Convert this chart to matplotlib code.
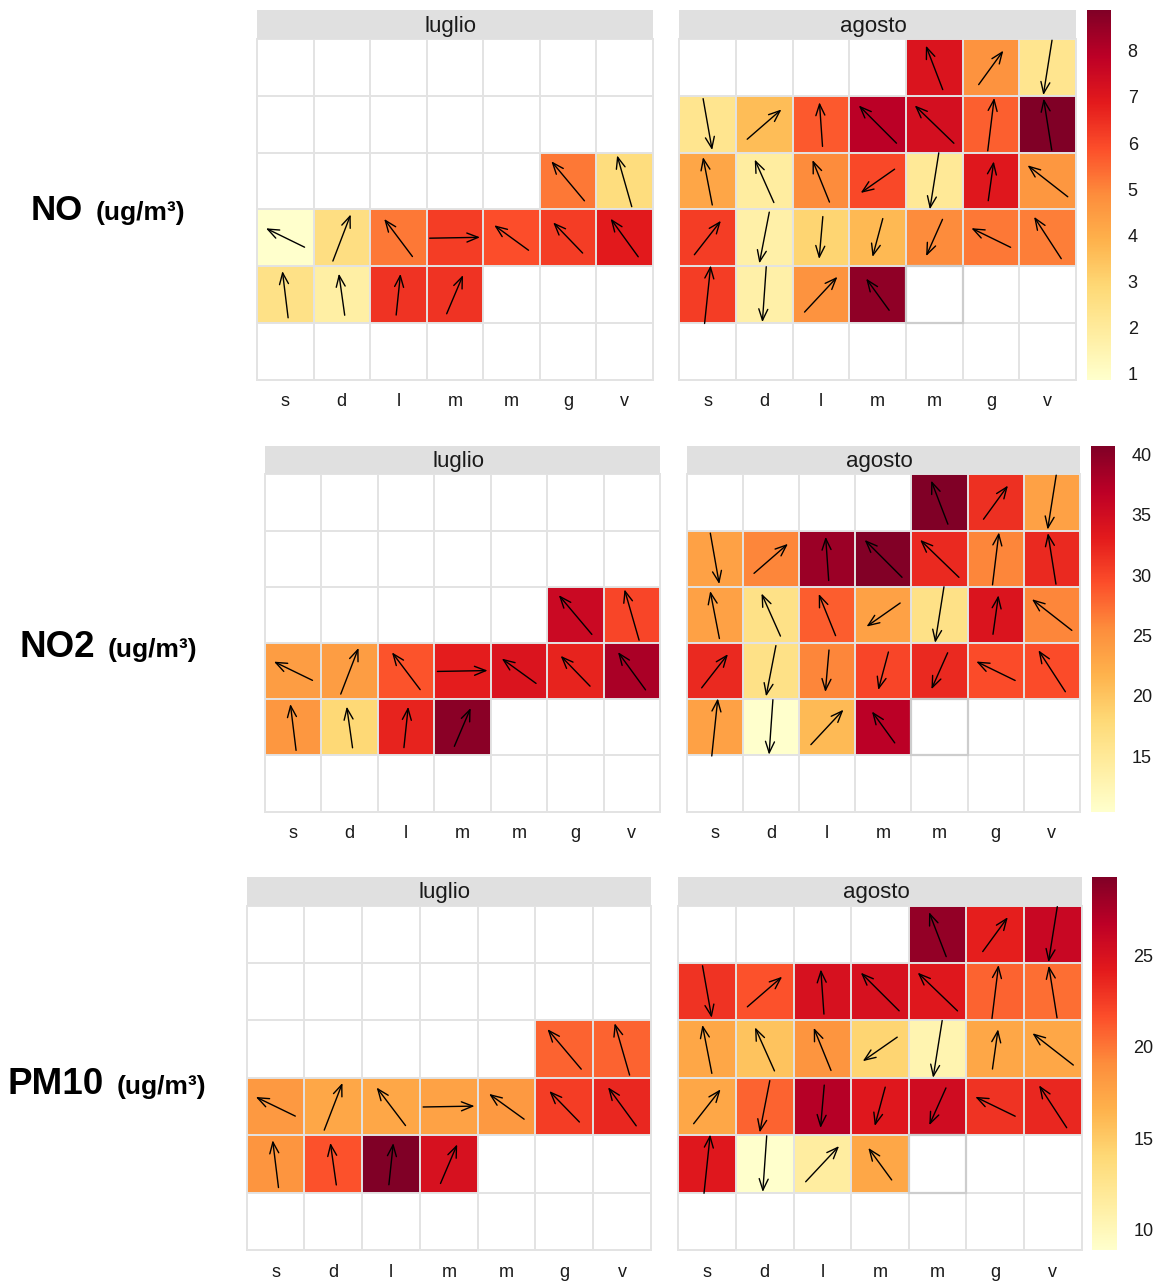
import datetime as dt
import numpy as np
import matplotlib
matplotlib.use("Agg")
import matplotlib.pyplot as plt
from matplotlib.patches import Rectangle, FancyArrowPatch
from matplotlib import cm, colors

plt.rcParams['font.family'] = ['Liberation Sans', 'DejaVu Sans']

W, H = 1159, 1282

# ---- data -------------------------------------------------------------
year = 2018
jul_days = list(range(19, 32))
aug_days = list(range(1, 29))
aug_missing = [29]

week_labels = ['s', 'd', 'l', 'm', 'm', 'g', 'v']
month_names = ['luglio', 'agosto']

# wind direction the arrow points to (deg, 0 = north) and relative speed
wind_to_jul = [320, 344, 296, 21, 323, 89, 306, 316, 324, 353, 352, 6, 23]
wind_to_aug = [339, 36, 189, 170, 49, 356, 315, 314, 7, 351, 349, 336, 338, 235,
               189, 8, 308, 38, 191, 185, 195, 204, 296, 327, 6, 184, 43, 324]
ws_jul = [0.91, 0.94, 0.76, 0.88, 0.83, 0.89, 0.75, 0.75, 0.83, 0.83, 0.74, 0.73, 0.74]
ws_aug = [0.83, 0.74, 0.98, 0.92, 0.80, 0.78, 0.94, 0.96, 0.94, 0.92, 0.86, 0.83, 0.80, 0.73,
          1.01, 0.70, 0.90, 0.76, 0.92, 0.75, 0.70, 0.71, 0.77, 0.88, 1.03, 0.98, 0.85, 0.69]

no_jul = [5.2, 2.7, 0.88, 2.6, 5.2, 6.2, 5.9, 6.2, 6.9, 2.5, 1.8, 6.4, 6.4]
no_aug = [7.1, 4.7, 2.3, 2.3, 3.6, 5.7, 7.9, 7.3, 5.6, 8.88, 4.2, 1.9, 4.9, 6.0,
          2.1, 7.0, 4.6, 6.2, 1.7, 3.0, 3.7, 4.9, 5.2, 5.1, 6.2, 1.7, 4.7, 8.6]

no2_jul = [35.5, 30, 24, 24, 29, 33, 34, 32.5, 38, 24.5, 18, 32.5, 40]
no2_aug = [40.7, 31.5, 23.5, 23.5, 26, 39, 40.5, 32, 26, 32, 23.5, 16.5, 28.5, 23.5,
           16.5, 34, 26, 32, 16.5, 26, 30, 32, 29.5, 29.5, 23.5, 10.4, 21, 37]

pm10_jul = [20.8, 20.8, 18.3, 17.3, 17.3, 17.6, 18.3, 22.5, 23.5, 18.6, 21.5, 29.3, 25]
pm10_aug = [28.5, 24, 26, 23, 21.5, 25, 25, 24.5, 20.8, 20.3, 17.3, 15.5, 18.6, 14.3,
            10.5, 17.3, 17.3, 17.3, 20.8, 27, 24.5, 25.5, 23, 23.5, 24.5, 8.9, 11.5, 17.3]

pollutants = ['NO', 'NO2', 'PM10']
values = {'NO': (no_jul, no_aug), 'NO2': (no2_jul, no2_aug), 'PM10': (pm10_jul, pm10_aug)}
cbar_ticks = {'NO': [1, 2, 3, 4, 5, 6, 7, 8],
              'NO2': [15, 20, 25, 30, 35, 40],
              'PM10': [10, 15, 20, 25]}

# ---- layout (pixels) ----------------------------------------------------
rows = [
    dict(jul=(257, 652.7), aug=(679.3, 1076), top=10, strip=39.3, bot=379.5,
         cbar=(1086.7, 1111), lab=(31, 220), lab_size=25),
    dict(jul=(265, 660), aug=(686.7, 1080), top=446, strip=474.3, bot=811.5,
         cbar=(1090.7, 1115), lab=(20, 657), lab_size=26.5),
    dict(jul=(246.7, 651), aug=(678.3, 1081.7), top=876.7, strip=905.7, bot=1250,
         cbar=(1091.7, 1116.7), lab=(8, 1094), lab_size=26.5),
]

cmap = plt.get_cmap('YlOrRd')
grid_col = '#e3e3e3'


def fig_rect(x0, y0, x1, y1):
    return [x0 / W, 1 - y1 / H, (x1 - x0) / W, (y1 - y0) / H]


def cell_pos(month, day):
    d = dt.date(year, month, day)
    first = dt.date(year, month, 1)
    col = (d.weekday() + 2) % 7
    off = (first.weekday() + 2) % 7
    row = (day + off - 1) // 7
    return col, row


def draw_month(ax, month, days, vals, wto, ws, norm, missing=()):
    ax.set_xlim(0, 7)
    ax.set_ylim(6, 0)
    for s in ax.spines.values():
        s.set_visible(False)
    for day, v, a, s in zip(days, vals, wto, ws):
        c, r = cell_pos(month, day)
        ax.add_patch(Rectangle((c, r), 1, 1, fc=cmap(norm(v)), ec='none', zorder=1))
        dx = np.sin(np.radians(a)) * s / 2
        dy = -np.cos(np.radians(a)) * s / 2
        cx, cy = c + 0.5, r + 0.5
        ax.add_patch(FancyArrowPatch((cx - dx, cy - dy), (cx + dx, cy + dy),
                                     arrowstyle='->,head_length=0.45,head_width=0.18',
                                     mutation_scale=18, lw=1.0, color='black',
                                     shrinkA=0, shrinkB=0, zorder=4, clip_on=False))
    for i in range(8):
        ax.plot([i, i], [0, 6], color=grid_col, lw=1.4, zorder=2, clip_on=False)
    for j in range(7):
        ax.plot([0, 7], [j, j], color=grid_col, lw=1.4, zorder=2, clip_on=False)
    for day in missing:
        c, r = cell_pos(month, day)
        ax.add_patch(Rectangle((c, r), 1, 1, fc='white', ec='#cdcdcd', lw=1.6, zorder=3))
    ax.set_xticks(np.arange(7) + 0.5)
    ax.set_xticklabels(week_labels)
    ax.set_yticks([])
    ax.tick_params(axis='x', length=0, pad=10, labelsize=13, colors='#1a1a1a')


fig = plt.figure(figsize=(W / 100, H / 100), dpi=100)
renderer = fig.canvas.get_renderer()

for p, g in zip(pollutants, rows):
    vj, va = values[p]
    allv = vj + va
    norm = colors.Normalize(vmin=min(allv), vmax=max(allv))

    for k, (month, days, vals, wto, ws, miss) in enumerate([
            (7, jul_days, vj, wind_to_jul, ws_jul, []),
            (8, aug_days, va, wind_to_aug, ws_aug, aug_missing)]):
        x0, x1 = g['jul'] if k == 0 else g['aug']
        ax = fig.add_axes(fig_rect(x0, g['strip'], x1, g['bot']))
        draw_month(ax, month, days, vals, wto, ws, norm, miss)
        sax = fig.add_axes(fig_rect(x0, g['top'], x1, g['strip']))
        sax.set_facecolor('#e0e0e0')
        sax.set_xticks([])
        sax.set_yticks([])
        for s in sax.spines.values():
            s.set_visible(False)
        sax.text(0.49, 0.45, month_names[k], ha='center', va='center',
                 fontsize=16, color='#1a1a1a', transform=sax.transAxes)

    cx0, cx1 = g['cbar']
    cax = fig.add_axes(fig_rect(cx0, g['top'], cx1, g['bot']))
    cb = fig.colorbar(cm.ScalarMappable(norm=norm, cmap=cmap), cax=cax)
    cb.outline.set_visible(False)
    cb.set_ticks(cbar_ticks[p])
    cax.tick_params(length=0, pad=12, labelsize=13, colors='#1a1a1a')

    lx, ly = g['lab']
    t = fig.text(lx / W, 1 - ly / H, p, fontsize=g['lab_size'], fontweight='bold',
                 ha='left', va='baseline')
    bb = t.get_window_extent(renderer)
    fig.text((bb.x1 + 12) / W, 1 - ly / H, '(ug/m³)', fontsize=19,
             fontweight='bold', ha='left', va='baseline')

fig.savefig('out.png', dpi=100)
